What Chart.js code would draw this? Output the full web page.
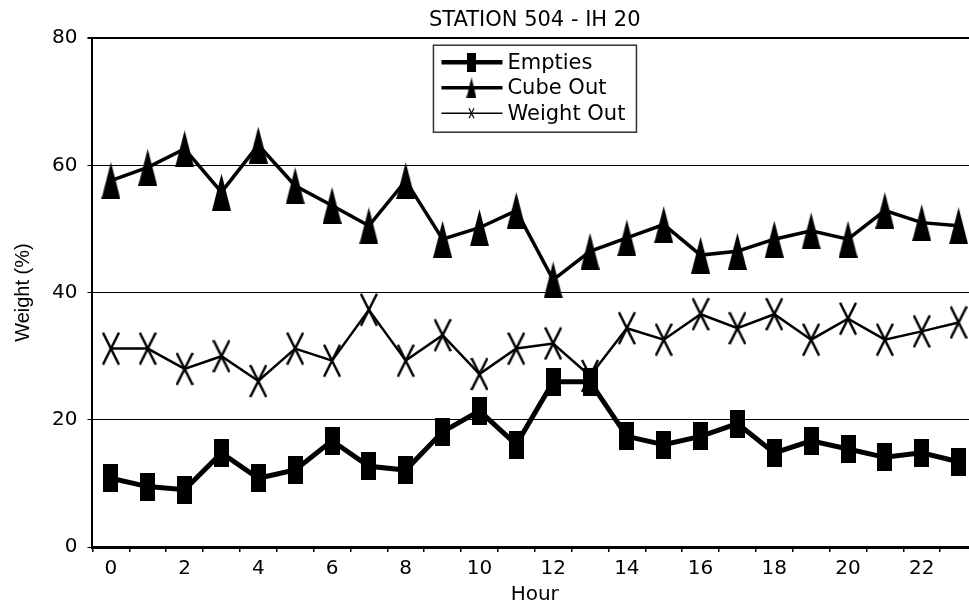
<!DOCTYPE html>
<html>
<head>
<meta charset="utf-8">
<title>Station 504 - IH 20</title>
<script src="https://cdn.jsdelivr.net/npm/chart.js@4/dist/chart.umd.min.js"></script>
<style>
  html, body { margin: 0; padding: 0; background: #fff; overflow: hidden; }
  #wrap { width: 1070px; height: 611px; }
</style>
</head>
<body>
<div id="wrap"><canvas id="stationChart" width="1070" height="611"></canvas></div>
<script>
// hours along the x-axis
var hours = ['0','1','2','3','4','5','6','7','8','9','10','11','12','13','14','15','16','17','18','19','20','21','22','23'];
// weight (%) per hour
var empties = [10.8, 9.5, 9.0, 14.8, 10.8, 12.1, 16.7, 12.7, 12.1, 18.1, 21.4, 16.1, 26.0, 26.0, 17.4, 16.1, 17.4, 19.4, 14.8, 16.7, 15.4, 14.1, 14.8, 13.4];
var cubeOut = [57.6, 59.7, 62.6, 55.8, 63.2, 56.8, 53.7, 50.5, 57.6, 48.4, 50.2, 52.9, 42.0, 46.5, 48.6, 50.7, 45.9, 46.5, 48.4, 49.7, 48.4, 52.9, 51.0, 50.5];
var weightOut = [31.2, 31.2, 28.0, 30.0, 26.1, 31.2, 29.3, 37.3, 29.3, 33.3, 27.2, 31.2, 32.0, 26.9, 34.4, 32.6, 36.6, 34.4, 36.6, 32.6, 35.9, 32.6, 33.9, 35.3];
var yTicks = [0, 20, 40, 60, 80];

// the original text is a little wide for its height, DejaVu gets closer than Arial
var FONT = '"DejaVu Sans", "Liberation Sans", Arial, sans-serif';
var FONT_V = '"Liberation Sans", Arial, sans-serif';

// markers in the original are taller than wide, so draw them on small canvases
function makeMarker(type, w, h, lw) {
  var c = document.createElement('canvas');
  c.width = w;
  c.height = h;
  var g = c.getContext('2d');
  g.fillStyle = '#000';
  g.strokeStyle = '#000';
  if (type == 'square') {
    g.fillRect(0, 0, w, h);
  } else if (type == 'triangle') {
    g.beginPath();
    g.moveTo(w / 2, 0);
    g.lineTo(w, h);
    g.lineTo(0, h);
    g.closePath();
    g.fill();
  } else {
    g.lineWidth = lw;
    g.beginPath();
    g.moveTo(1, 1);
    g.lineTo(w - 1, h - 1);
    g.moveTo(w - 1, 1);
    g.lineTo(1, h - 1);
    g.stroke();
  }
  return c;
}

var squareMark = makeMarker('square', 15, 28);
var triMark = makeMarker('triangle', 19, 37);
var crossMark = makeMarker('cross', 18, 34, 2.5);

var legendMarks = [
  makeMarker('square', 9, 19),
  makeMarker('triangle', 10, 21),
  makeMarker('cross', 7, 12, 1.2)
];
var legendLines = [4.5, 3.5, 1.5];

// boxed legend sitting inside the plot area
var boxLegend = {
  id: 'boxLegend',
  afterDraw: function(chart) {
    var ctx = chart.ctx;
    var a = chart.chartArea;
    var x = a.left + 341, y = a.top + 7, w = 203, h = 87;
    ctx.save();
    ctx.fillStyle = '#fff';
    ctx.fillRect(x, y, w, h);
    ctx.strokeStyle = '#333';
    ctx.lineWidth = 1.5;
    ctx.strokeRect(x, y, w, h);
    ctx.font = '21px ' + FONT;
    ctx.textBaseline = 'middle';
    ctx.fillStyle = '#000';
    chart.data.datasets.forEach(function(ds, i) {
      var ry = y + 17 + i * 25.5;
      ctx.strokeStyle = '#000';
      ctx.lineWidth = legendLines[i];
      ctx.beginPath();
      ctx.moveTo(x + 8, ry);
      ctx.lineTo(x + 69, ry);
      ctx.stroke();
      var m = legendMarks[i];
      ctx.drawImage(m, x + 38 - m.width / 2, ry - m.height / 2);
      ctx.fillText(ds.label, x + 74, ry + 1);
    });
    ctx.restore();
  }
};

var ctx = document.getElementById('stationChart');
var myChart = new Chart(ctx, {
  type: 'line',
  data: {
    labels: hours,
    datasets: [
      {
        label: 'Empties',
        data: empties,
        borderColor: '#000',
        borderWidth: 5,
        pointStyle: squareMark,
        tension: 0
      },
      {
        label: 'Cube Out',
        data: cubeOut,
        borderColor: '#000',
        borderWidth: 3.5,
        pointStyle: triMark,
        tension: 0
      },
      {
        label: 'Weight Out',
        data: weightOut,
        borderColor: '#000',
        borderWidth: 2.5,
        pointStyle: crossMark,
        tension: 0
      }
    ]
  },
  options: {
    responsive: false,
    animation: false,
    events: [],
    layout: { padding: { left: 0, right: 93, top: 0, bottom: 4 } },
    plugins: {
      legend: { display: false },
      tooltip: { enabled: false },
      title: {
        display: true,
        fullSize: false,   // centre over the plot, not the whole canvas
        text: 'STATION 504 - IH 20',
        color: '#000',
        font: { family: FONT, size: 21, weight: 'normal' },
        padding: { top: 8, bottom: 5 }
      }
    },
    scales: {
      x: {
        offset: true,
        grid: {
          offset: true,
          drawOnChartArea: false,
          drawTicks: true,
          tickLength: 5,
          color: '#000',
          lineWidth: 1.5
        },
        border: { display: true, color: '#000', width: 3 },
        ticks: {
          autoSkip: false,
          maxRotation: 0,
          color: '#000',
          padding: 5,
          font: { family: FONT, size: 20 },
          callback: function(v, i) { return i % 2 == 0 ? hours[i] : ''; }
        },
        title: {
          display: true,
          text: 'Hour',
          color: '#000',
          font: { family: FONT, size: 20 },
          padding: { top: -3, bottom: 0 }
        }
      },
      y: {
        min: 0,
        max: 80,
        afterBuildTicks: function(s) {
          s.ticks = yTicks.map(function(v) { return { value: v }; });
        },
        grid: {
          color: '#000',
          lineWidth: function(c) { return c.tick && c.tick.value == 80 ? 2 : 1; },
          tickLength: 5
        },
        border: { display: true, color: '#000', width: 2 },
        ticks: {
          color: '#000',
          padding: 10,
          font: { family: FONT, size: 20 }
        },
        title: {
          display: true,
          text: 'Weight (%)',
          color: '#000',
          font: { family: FONT_V, size: 20 },
          padding: { top: 11, bottom: 7 }
        }
      }
    }
  },
  plugins: [boxLegend]
});
</script>
</body>
</html>
